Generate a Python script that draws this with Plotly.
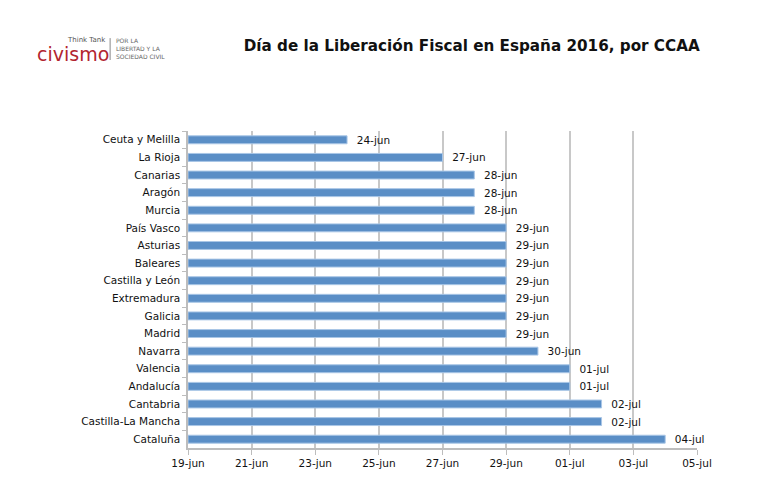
import pandas as pd
import plotly.graph_objects as go

regiones = ["Ceuta y Melilla", "La Rioja", "Canarias", "Aragón", "Murcia", "País Vasco",
            "Asturias", "Baleares", "Castilla y León", "Extremadura", "Galicia", "Madrid",
            "Navarra", "Valencia", "Andalucía", "Cantabria", "Castilla-La Mancha", "Cataluña"]
fechas = ["2016-06-24", "2016-06-27", "2016-06-28", "2016-06-28", "2016-06-28", "2016-06-29",
          "2016-06-29", "2016-06-29", "2016-06-29", "2016-06-29", "2016-06-29", "2016-06-29",
          "2016-06-30", "2016-07-01", "2016-07-01", "2016-07-02", "2016-07-02", "2016-07-04"]
etiquetas = ["24-jun", "27-jun", "28-jun", "28-jun", "28-jun", "29-jun",
             "29-jun", "29-jun", "29-jun", "29-jun", "29-jun", "29-jun",
             "30-jun", "01-jul", "01-jul", "02-jul", "02-jul", "04-jul"]
inicio = "2016-06-19"
tick_fechas = ["2016-06-19", "2016-06-21", "2016-06-23", "2016-06-25", "2016-06-27",
               "2016-06-29", "2016-07-01", "2016-07-03", "2016-07-05"]
tick_textos = ["19-jun", "21-jun", "23-jun", "25-jun", "27-jun", "29-jun", "01-jul", "03-jul", "05-jul"]

t0 = pd.Timestamp(inicio)
dias = [(pd.Timestamp(f) - t0).days for f in fechas]
tick_vals = [(pd.Timestamp(f) - t0).days for f in tick_fechas]

FONT = "DejaVu Sans"

fig = go.Figure()
fig.add_trace(go.Bar(
    y=regiones, x=dias, orientation="h",
    marker=dict(color="#5a8ec6", line=dict(color="#a9c6e6", width=1)),
    width=0.45,
    text=["  " + e for e in etiquetas], textposition="outside",
    constraintext="none",
    textfont=dict(family=FONT, size=10.5, color="#111111"),
    cliponaxis=False,
    hoverinfo="skip",
))

fig.update_layout(
    width=769, height=491,
    margin=dict(l=180, r=80, t=123, b=51),
    paper_bgcolor="white", plot_bgcolor="white",
    showlegend=False,
    font=dict(family=FONT, size=10.5, color="#111111"),
    title=dict(text="<b>Día de la Liberación Fiscal en España 2016, por CCAA</b>",
               x=0.603, xanchor="center", y=0.923, yanchor="middle",
               font=dict(family=FONT, size=15.2, color="#111111")),
    bargap=0.5,
)
fig.update_xaxes(
    range=[0, 16], tickvals=tick_vals, ticktext=tick_textos,
    showgrid=True, gridcolor="#c8c8c8", gridwidth=1.5,
    showline=True, linecolor="#bdbdbd", linewidth=1.5,
    ticks="outside", ticklen=5, tickcolor="#bdbdbd",
    tickfont=dict(family=FONT, size=10.5, color="#111111"),
    zeroline=False, fixedrange=True,
)
fig.update_yaxes(
    categoryorder="array", categoryarray=regiones, autorange="reversed",
    showline=True, linecolor="#bdbdbd", linewidth=1.5,
    ticks="outside", ticklen=4, tickcolor="#bdbdbd", tickson="boundaries",
    ticklabelstandoff=4,
    tickfont=dict(family=FONT, size=10.5, color="#111111"),
    showgrid=False, fixedrange=True,
)

# Logo
fig.add_annotation(xref="paper", yref="paper", x=-0.159, y=1.288, xanchor="right", yanchor="middle",
                   text="Think Tank", showarrow=False, borderpad=0,
                   font=dict(family=FONT, size=7, color="#555555"))
fig.add_annotation(xref="paper", yref="paper", x=-0.299, y=1.243, xanchor="left", yanchor="middle",
                   text="civismo", showarrow=False, borderpad=0,
                   font=dict(family=FONT, size=19, color="#b2252f"))
fig.add_shape(type="line", xref="paper", yref="paper", x0=-0.153, x1=-0.153, y0=1.224, y1=1.293,
              line=dict(color="#888888", width=1))
fig.add_annotation(xref="paper", yref="paper", x=-0.144, y=1.260, xanchor="left", yanchor="middle",
                   text="POR LA<br>LIBERTAD Y LA<br>SOCIEDAD CIVIL", align="left", showarrow=False,
                   borderpad=0, font=dict(family=FONT, size=6, color="#666666"))

fig.write_html("out.html")
